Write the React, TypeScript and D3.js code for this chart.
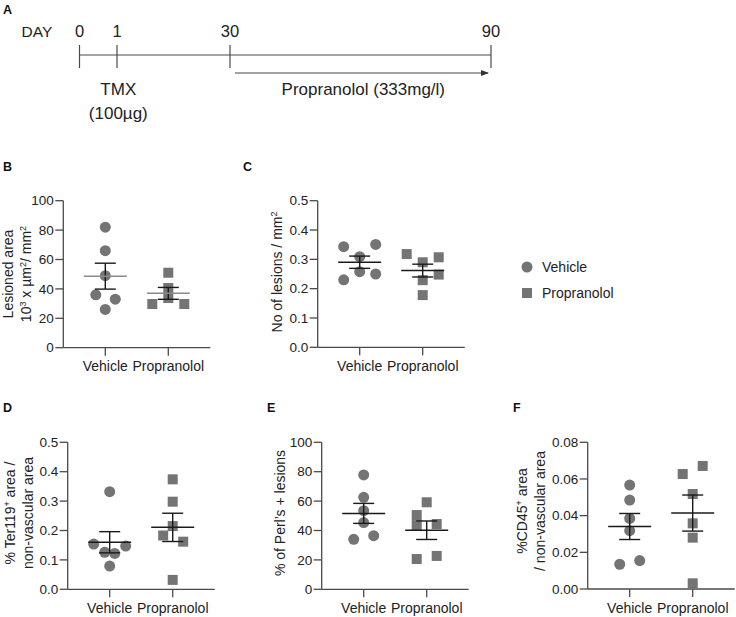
import React from 'react';
import * as d3 from 'd3';

// ---------- DATA ----------
const groups = ['Vehicle', 'Propranolol'];

const bVehicle = [82, 66, 49, 36, 33, 26];
const bPropranolol = [51, 40.6, 33.8, 29.7, 29.7];
const cVehicle = [0.343, 0.309, 0.351, 0.23, 0.258, 0.25];
const cPropranolol = [0.318, 0.29, 0.307, 0.248, 0.229, 0.178];
const dVehicle = [0.332, 0.154, 0.126, 0.122, 0.147, 0.079];
const dPropranolol = [0.374, 0.298, 0.215, 0.183, 0.162, 0.032];
const eVehicle = [77.8, 62.6, 53.5, 45.4, 34, 36.5];
const ePropranolol = [59.2, 50.5, 43.7, 44.4, 20.6, 22.7];
const fVehicle = [0.0567, 0.0485, 0.0385, 0.0318, 0.0135, 0.0155];
const fPropranolol = [0.0627, 0.0671, 0.0518, 0.0358, 0.028, 0.0031];

const ticks100 = [0, 20, 40, 60, 80, 100];
const ticksHalf = [0, 0.1, 0.2, 0.3, 0.4, 0.5];
const ticksF = [0, 0.02, 0.04, 0.06, 0.08];

const timelineDays = [0, 1, 30, 90];

// ---------- LAYOUT (dodge offsets in px, not data) ----------
const bVehicleJitter = [0, 0, 0, -9.5, 10, 0];
const bPropJitter = [0, 0, 0, -16, 16];
const cVehicleJitter = [-16, 0, 16, -16, 0, 16];
const cPropJitter = [-16, 0, 16, 16, 0, 0];
const dVehicleJitter = [0, -16, -5, 5, 16, 0];
const dPropJitter = [0, 0, 0, -9.5, 10.5, 0];
const eVehicleJitter = [0, 0, 0, 0, -10, 10];
const ePropJitter = [0, -10, -10, 10, -10, 10];
const fVehicleJitter = [0, 0, 0, 0, -10, 10];
const fPropJitter = [-10, 10, 0, 0, 0, 0];

const FONT = '"Liberation Sans", Arial, Helvetica, sans-serif';
const TEXT = '#222';
const AXIS = '#4a4a4a';
const MARK = '#747474';

type Part = { t: string; sup?: boolean };
type Label = { parts: Part[]; x: number };

function LabelText({ label, cy }: { label: Label; cy: number }) {
  return (
    <text
      transform={`translate(${label.x},${cy}) rotate(-90)`}
      textAnchor="middle"
      fontSize={14}
      fontFamily={FONT}
      fill={TEXT}
    >
      {label.parts.map((p, i) =>
        p.sup ? (
          <tspan key={i} baselineShift="super" fontSize={9}>
            {p.t}
          </tspan>
        ) : (
          <tspan key={i}>{p.t}</tspan>
        )
      )}
    </text>
  );
}

interface PanelProps {
  letter: string;
  letterX: number;
  letterY: number;
  x0: number;
  yTop: number;
  yBot: number;
  domainMax: number;
  ticks: number[];
  fmt: string;
  vehicle: number[];
  prop: number[];
  jV: number[];
  jP: number[];
  labels: Label[];
  labelCy: number;
  meanColor?: string;
}

function Panel(p: PanelProps) {
  const axisW = 147;
  const y = d3.scaleLinear().domain([0, p.domainMax]).range([p.yBot, p.yTop]);
  const x = d3.scalePoint<string>().domain(groups).range([p.x0 + 42, p.x0 + 105]);
  const f = d3.format(p.fmt);
  const tickLen = 8;
  const sets = [
    { name: groups[0], vals: p.vehicle, jit: p.jV, shape: 'circle' },
    { name: groups[1], vals: p.prop, jit: p.jP, shape: 'square' },
  ];
  return (
    <g>
      <text x={p.letterX} y={p.letterY} fontSize={12.5} fontWeight="bold" fontFamily={FONT} fill="#111">
        {p.letter}
      </text>
      {p.labels.map((l, i) => (
        <LabelText key={i} label={l} cy={p.labelCy} />
      ))}
      {/* y axis */}
      <line x1={p.x0} x2={p.x0} y1={p.yTop} y2={p.yBot} stroke={AXIS} strokeWidth={1.3} />
      {p.ticks.map((t) => (
        <g key={t}>
          <line x1={p.x0 - tickLen} x2={p.x0} y1={y(t)} y2={y(t)} stroke={AXIS} strokeWidth={1.3} />
          <text
            x={p.x0 - tickLen - 1.5}
            y={y(t)}
            dy="0.35em"
            textAnchor="end"
            fontSize={13.5}
            fontFamily={FONT}
            fill={TEXT}
          >
            {f(t)}
          </text>
        </g>
      ))}
      {/* x axis */}
      <line x1={p.x0} x2={p.x0 + axisW} y1={p.yBot} y2={p.yBot} stroke={AXIS} strokeWidth={1.3} />
      {groups.map((g) => (
        <g key={g}>
          <line x1={x(g)} x2={x(g)} y1={p.yBot} y2={p.yBot + tickLen} stroke={AXIS} strokeWidth={1.3} />
          <text x={x(g)} y={p.yBot + 23.5} textAnchor="middle" fontSize={14} fontFamily={FONT} fill={TEXT}>
            {g}
          </text>
        </g>
      ))}
      {/* points */}
      {sets.map((s) =>
        s.vals.map((v, i) => {
          const cx = (x(s.name) as number) + (s.jit[i] || 0);
          const cy = y(v);
          return s.shape === 'circle' ? (
            <circle key={s.name + i} cx={cx} cy={cy} r={5.5} fill={MARK} />
          ) : (
            <rect key={s.name + i} x={cx - 5} y={cy - 5} width={10} height={10} fill={MARK} />
          );
        })
      )}
      {/* mean ± SEM */}
      {sets.map((s) => {
        const m = d3.mean(s.vals) as number;
        const sem = (d3.deviation(s.vals) as number) / Math.sqrt(s.vals.length);
        const cx = x(s.name) as number;
        return (
          <g key={'m' + s.name}>
            <line x1={cx} x2={cx} y1={y(m + sem)} y2={y(m - sem)} stroke="#1a1a1a" strokeWidth={1.4} />
            <line x1={cx - 10.5} x2={cx + 10.5} y1={y(m + sem)} y2={y(m + sem)} stroke="#1a1a1a" strokeWidth={1.4} />
            <line x1={cx - 10.5} x2={cx + 10.5} y1={y(m - sem)} y2={y(m - sem)} stroke="#1a1a1a" strokeWidth={1.4} />
            <line x1={cx - 21.5} x2={cx + 21.5} y1={y(m)} y2={y(m)} stroke={p.meanColor || '#1a1a1a'} strokeWidth={1.5} />
          </g>
        );
      })}
    </g>
  );
}

function Timeline() {
  const t = d3.scaleLinear().domain(timelineDays).range([79.5, 117, 230, 491]);
  const lineY = 55;
  return (
    <g fontFamily={FONT} fill={TEXT}>
      <defs>
        <marker id="arrowhead" markerWidth="8" markerHeight="6" refX="7" refY="3" orient="auto" markerUnits="userSpaceOnUse">
          <path d="M0,0 L8,3 L0,6 Z" fill="#333" />
        </marker>
      </defs>
      <text x={3} y={14} fontSize={12.5} fontWeight="bold" fill="#111">
        A
      </text>
      <text x={21.5} y={37} fontSize={15.5}>
        DAY
      </text>
      <line x1={t(0)} x2={t(90)} y1={lineY} y2={lineY} stroke={AXIS} strokeWidth={1.2} />
      {timelineDays.map((d) => (
        <g key={d}>
          <line x1={t(d)} x2={t(d)} y1={45} y2={68} stroke={AXIS} strokeWidth={1.2} />
          <text x={t(d)} y={37} textAnchor="middle" fontSize={16.5}>
            {d}
          </text>
        </g>
      ))}
      <line x1={t(30) + 5} x2={t(90) - 3} y1={73} y2={73} stroke="#444" strokeWidth={1.1} markerEnd="url(#arrowhead)" />
      <text x={118.3} y={95} textAnchor="middle" fontSize={17}>
        TMX
      </text>
      <text x={118.3} y={119} textAnchor="middle" fontSize={17}>
        (100µg)
      </text>
      <text x={363.3} y={95} textAnchor="middle" fontSize={17}>
        Propranolol (333mg/l)
      </text>
    </g>
  );
}

function Legend() {
  return (
    <g fontFamily={FONT} fill={TEXT} fontSize={14}>
      <circle cx={527} cy={267} r={5.5} fill={MARK} />
      <text x={542} y={272}>
        {groups[0]}
      </text>
      <rect x={522} y={288} width={10} height={10} fill={MARK} />
      <text x={542} y={298}>
        {groups[1]}
      </text>
    </g>
  );
}

export default function App() {
  return (
    <svg
      width={736}
      height={617}
      viewBox="0 0 736 617"
      style={{ position: 'absolute', left: 0, top: 0, background: '#fff' }}
    >
      <rect width={736} height={617} fill="#fff" />
      <Timeline />
      <Panel
        letter="B"
        letterX={3}
        letterY={171}
        x0={63.3}
        yTop={200.7}
        yBot={347.7}
        domainMax={100}
        ticks={ticks100}
        fmt="d"
        vehicle={bVehicle}
        prop={bPropranolol}
        jV={bVehicleJitter}
        jP={bPropJitter}
        labels={[
          { parts: [{ t: 'Lesioned area' }], x: 13 },
          { parts: [{ t: '10' }, { t: '3', sup: true }, { t: ' x µm' }, { t: '2', sup: true }, { t: '/ mm' }, { t: '2', sup: true }], x: 31 },
        ]}
        labelCy={274}
        meanColor="#8a8a8a"
      />
      <Panel
        letter="C"
        letterX={243}
        letterY={171}
        x0={317.7}
        yTop={200.7}
        yBot={347.3}
        domainMax={0.5}
        ticks={ticksHalf}
        fmt=".1f"
        vehicle={cVehicle}
        prop={cPropranolol}
        jV={cVehicleJitter}
        jP={cPropJitter}
        labels={[{ parts: [{ t: 'No of lesions / mm' }, { t: '2', sup: true }], x: 282 }]}
        labelCy={272}
      />
      <Legend />
      <Panel
        letter="D"
        letterX={3}
        letterY={412}
        x0={67.7}
        yTop={442.3}
        yBot={589.3}
        domainMax={0.5}
        ticks={ticksHalf}
        fmt=".1f"
        vehicle={dVehicle}
        prop={dPropranolol}
        jV={dVehicleJitter}
        jP={dPropJitter}
        labels={[
          { parts: [{ t: '% Ter119' }, { t: '+', sup: true }, { t: ' area /' }], x: 15 },
          { parts: [{ t: 'non-vascular area' }], x: 33 },
        ]}
        labelCy={513}
      />
      <Panel
        letter="E"
        letterX={267}
        letterY={412}
        x0={321.7}
        yTop={442.3}
        yBot={589.3}
        domainMax={100}
        ticks={ticks100}
        fmt="d"
        vehicle={eVehicle}
        prop={ePropranolol}
        jV={eVehicleJitter}
        jP={ePropJitter}
        labels={[{ parts: [{ t: '% of Perl’s + lesions' }], x: 285 }]}
        labelCy={513}
      />
      <Panel
        letter="F"
        letterX={513}
        letterY={412}
        x0={587.7}
        yTop={442.3}
        yBot={589}
        domainMax={0.08}
        ticks={ticksF}
        fmt=".2f"
        vehicle={fVehicle}
        prop={fPropranolol}
        jV={fVehicleJitter}
        jP={fPropJitter}
        labels={[
          { parts: [{ t: '%CD45' }, { t: '+', sup: true }, { t: ' area' }], x: 527 },
          { parts: [{ t: '/ non-vascular area' }], x: 545 },
        ]}
        labelCy={511}
      />
    </svg>
  );
}
